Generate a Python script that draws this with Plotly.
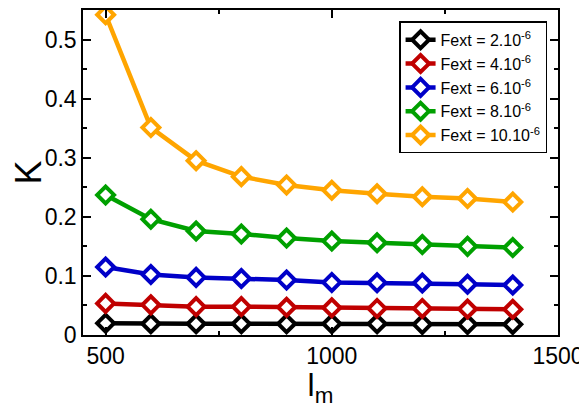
import plotly.graph_objects as go

lm = [500, 600, 700, 800, 900, 1000, 1100, 1200, 1300, 1400]
k_2 = [0.020, 0.019, 0.019, 0.019, 0.019, 0.019, 0.019, 0.018, 0.018, 0.018]
k_4 = [0.0535, 0.051, 0.048, 0.048, 0.047, 0.046, 0.045, 0.045, 0.044, 0.0435]
k_6 = [0.115, 0.1025, 0.0975, 0.0955, 0.093, 0.089, 0.0885, 0.088, 0.086, 0.0845]
k_8 = [0.237, 0.196, 0.176, 0.171, 0.164, 0.159, 0.156, 0.153, 0.150, 0.148]
k_10 = [0.542, 0.351, 0.295, 0.268, 0.254, 0.245, 0.239, 0.234, 0.231, 0.225]

names = ["Fext = 2.10<sup>-6</sup>", "Fext = 4.10<sup>-6</sup>", "Fext = 6.10<sup>-6</sup>",
         "Fext = 8.10<sup>-6</sup>", "Fext = 10.10<sup>-6</sup>"]
series = [k_2, k_4, k_6, k_8, k_10]
colors = ["#000000", "#c00000", "#0000c8", "#00a000", "#ffa500"]

fig = go.Figure()
for name, ys, c in zip(names, series, colors):
    fig.add_trace(go.Scatter(
        x=lm, y=ys, name=name, mode="lines+markers", cliponaxis=False,
        line=dict(color=c, width=4.5),
        marker=dict(symbol="diamond", size=13, color="white", line=dict(color=c, width=4)),
    ))

font = "Liberation Sans, Arial, sans-serif"
# page body has an 8px default margin, so the figure is sized/placed accordingly
fig.update_layout(
    width=579, height=400,
    margin=dict(l=75, r=29, t=2, b=73, autoexpand=False),
    plot_bgcolor="white", paper_bgcolor="white",
    font=dict(family=font, color="black"),
    showlegend=True,
    legend=dict(x=0.977, y=0.965, xanchor="right", yanchor="top",
                bordercolor="black", borderwidth=1.5, bgcolor="white",
                font=dict(size=16, family=font),
                itemwidth=30),
)
fig.update_xaxes(
    range=[450, 1500], tickvals=[500, 1000, 1500],
    ticks="inside", ticklen=8, tickwidth=1.5, tickcolor="black",
    minor=dict(tickvals=[750, 1250], ticks="inside", ticklen=4, tickwidth=1.5, tickcolor="black"),
    showline=True, linecolor="black", linewidth=1.5, mirror="ticks",
    showgrid=False, zeroline=False, automargin=False,
    tickfont=dict(size=23),
    title=dict(text="l<sub>m</sub>", font=dict(size=32), standoff=0),
)
fig.update_yaxes(
    range=[0, 0.55], tickvals=[0, 0.1, 0.2, 0.3, 0.4, 0.5],
    ticktext=["0", "0.1", "0.2", "0.3", "0.4", "0.5"],
    ticks="inside", ticklen=8, tickwidth=1.5, tickcolor="black",
    minor=dict(tickvals=[0.05, 0.15, 0.25, 0.35, 0.45], ticks="inside", ticklen=4, tickwidth=1.5, tickcolor="black"),
    showline=True, linecolor="black", linewidth=1.5, mirror="ticks",
    showgrid=False, zeroline=False, automargin=False,
    tickfont=dict(size=23),
    title=dict(text="K", font=dict(size=36), standoff=0),
)
fig.write_html("out.html")
